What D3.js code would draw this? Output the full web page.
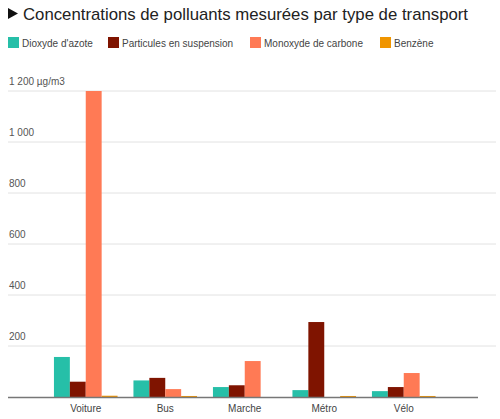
<!DOCTYPE html>
<html><head><meta charset="utf-8">
<script src="https://cdn.jsdelivr.net/npm/d3@7"></script>
<style>body{margin:0;background:#fff;font-family:Arial,"Liberation Sans",sans-serif}</style>
</head><body>
<svg id="c" width="500" height="419"></svg>
<script>
var categories = ["Voiture", "Bus", "Marche", "Métro", "Vélo"];
var seriesNames = ["Dioxyde d'azote", "Particules en suspension", "Monoxyde de carbone", "Benzène"];
var colors = ["#26bfa8", "#7f1400", "#ff7a55", "#f09500"];
var no2 = [157, 65, 39, 27, 23];
var pm = [60, 75, 46, 294, 39];
var co = [1200, 31, 141, 0, 94];
var benzene = [5, 4, 0, 4, 4];
var ticks = [200, 400, 600, 800, 1000, 1200];
var series = [no2, pm, co, benzene];

var svg = d3.select('#c');
var fmt = function (v) { return d3.format(',')(v).replace(',', ' '); };

svg.append('path').attr('d', 'M8,8L18,13.5L8,19Z').attr('fill', '#111');
svg.append('text').attr('x', 23).attr('y', 20).attr('font-size', 17).attr('fill', '#222')
	.attr('textLength', 445).attr('lengthAdjust', 'spacingAndGlyphs')
	.text('Concentrations de polluants mesurées par type de transport');

// legend
var lx = [8, 108, 250, 380];
seriesNames.forEach(function (s, i) {
	svg.append('rect').attr('x', lx[i]).attr('y', 37).attr('width', 11).attr('height', 11).attr('fill', colors[i]);
	svg.append('text').attr('x', lx[i] + 14).attr('y', 46.5).attr('font-size', 10).attr('fill', '#444').text(s);
});

var y = d3.scaleLinear().domain([0, 1200]).range([397, 91]);
var x = d3.scaleBand().domain(categories).range([46, 443.5]).paddingInner(0.2).paddingOuter(0.1);
var xs = d3.scaleBand().domain(d3.range(4)).range([0, x.bandwidth()]);

svg.append('g').selectAll('line').data(ticks).join('line')
	.attr('x1', 8).attr('x2', 496).attr('y1', y).attr('y2', y)
	.attr('stroke', '#e2e2e2');
svg.append('g').selectAll('text').data(ticks).join('text')
	.attr('x', 9).attr('y', function (d) { return y(d) - 6; })
	.attr('font-size', 10).attr('fill', '#555')
	.text(function (d) { return d == 1200 ? fmt(d) + ' µg/m3' : fmt(d); });

var g = svg.append('g').selectAll('g').data(categories).join('g')
	.attr('transform', function (d) { return 'translate(' + x(d) + ',0)'; });
g.selectAll('rect').data(function (d, ci) {
	return series.map(function (s, si) { return {si: si, v: s[ci]}; });
}).join('rect')
	.attr('x', function (d) { return xs(d.si); })
	.attr('width', xs.bandwidth())
	.attr('y', function (d) { return y(d.v); })
	.attr('height', function (d) { return Math.max(0, y(0) - y(d.v)); })
	.attr('fill', function (d) { return colors[d.si]; });

svg.append('line').attr('x1', 8).attr('x2', 478).attr('y1', 397.5).attr('y2', 397.5)
	.attr('stroke', '#777').attr('stroke-width', 1.5);

svg.append('g').selectAll('text').data(categories).join('text')
	.attr('x', function (d) { return x(d) + x.bandwidth() / 2; }).attr('y', 412)
	.attr('text-anchor', 'middle').attr('font-size', 10).attr('fill', '#444')
	.text(function (d) { return d; });
</script>
</body></html>
